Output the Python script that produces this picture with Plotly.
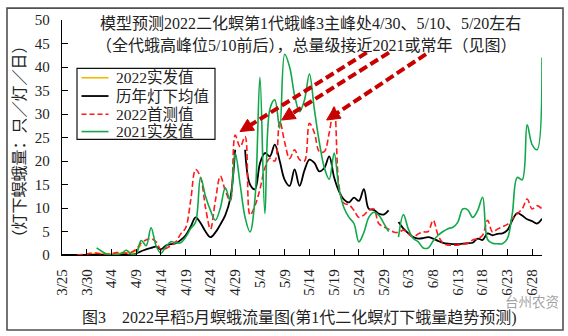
import math
import pandas as pd
import plotly.graph_objects as go

# ---------------- data ----------------
dates = pd.date_range("2022-03-25", "2022-06-30", freq="D").strftime("%Y-%m-%d").tolist()

yellow_2022_actual = [0, 0, 0, 0, 0, 0.1, 0.2, 0.3, 0.3, 0.2, 0.2, 0.3, 0.4, 0.4, 0.5, 1.0, 2.2] + [None] * 81

black_hist_mean = [0] * 15 + [
    0.3, 0.8, 1.2, 1.5, 1.8, 1.2, 2.0, 2.3, 2.5, 3.2,          # d15-24
    4.2, 6.0, 8.0, 6.8, 5.0, 3.8, 4.8, 6.5, 8.5, 12.0,         # d25-34
    22.4, None, 22.4, 15.0, 14.0, 19.5, 21.7, 21.0, 23.5, 20.0,  # d35-44
    16.0, 14.7, 18.2, 14.7, 18.0, 20.3, 19.6, 17.8, 18.5, 21.0,  # d45-54
    16.5, 13.5, 11.8, 11.2, 12.2, 11.5, 14.0, 9.8, 9.6, 8.8,   # d55-64
    8.6, 9.5, None, 7.0, 5.6, 4.6, 3.8, 3.5, 3.6, 3.8,         # d65-74
    3.5, 3.0, 2.6, 2.4, 2.3, 2.3, 2.4, 2.5, 2.6, 3.5,          # d75-84
    3.2, 4.6, 4.2, 4.5, 4.6, 5.3, 7.4, 8.9, 8.4, 7.6,          # d85-94
    7.2, 6.7, 7.7]                                             # d95-97

red_2022_forecast = [None] * 3 + [
    0, 0.1, 0.2, 0.4, 0.4, 0.2, 0.2,                           # d3-9
    0.3, 0.5, 0.5, 0.4, 0.6, 1.2, 2.6, 3.2, 3.5, 2.8,          # d10-19
    1.1, 1.4, 2.0, 2.8, 4.5, 5.8, 11.6, 18.2, 16.5, 10.1,      # d20-29
    5.5, 11.6, 16.8, 13.7, 11.6, 25.5, 23.0, 25.2, 8.5, 10.5,  # d30-39
    14.0, 18.5, 20.6, 20.0, 28.5, 24.0, 20.5, 22.4, 20.3, 20.0,  # d40-49
    28.0, 26.0, 22.0, 22.0, 26.0, 31.5, 14.5, 11.0, 10.7, 9.5,   # d50-59
    8.0, 8.5, 9.5, 9.8, 6.7, 6.0, 5.5, 4.9, 4.8, 5.3,          # d60-69
    4.5, 3.8, 4.5, 4.9, 5.0, 7.4, 4.2, 2.5, 2.1, 2.1,          # d70-79
    2.1, 2.3, 2.5, 3.2, 3.5, 4.2, 7.4, 4.9, 5.5, 6.0,          # d80-89
    6.5, 7.7, 8.8, 9.8, 11.9, 9.8, 10.5, 9.8]                  # d90-97

green_2021_actual = [None] * 7 + [
    1.5, 0.8, 0.2,                                             # d7-9
    0.0, 0.1, 0.3, 1.0, 0.2, 0.3, 3.1, 2.0, 5.8, 2.0,          # d10-19
    0.4, 1.8, 2.8, 2.6, 2.6, 3.8, 5.6, 7.0, 16.5, 12.5,        # d20-29
    9.5, 7.4, 10.0, 14.3, 11.5, 21.7, 15.0, 8.0, 4.9, 12.0,    # d30-39
    37.8, 8.8, 31.0, 33.0, 27.0, 42.7, 40.0, 34.0, 30.5, 33.0,  # d40-49
    38.5, 31.0, 24.0, 18.6, 16.1, 21.7, 14.0, 10.0, 8.0, 6.7,   # d50-59
    2.8, 4.8, 8.0, 9.1, 8.5, 6.8, 5.0, None, 3.8, 8.6,         # d60-69
    5.5, 3.5, 2.8, 1.5, 1.5, 3.0, 4.2, 5.0, 5.6, 5.9,          # d70-79
    7.0, 9.8, 9.6, 8.0, 9.5, 12.3, 3.3, 2.5, 2.4, 2.4,         # d80-89
    3.5, 8.8, 16.5, 16.0, 27.7, 23.5, 22.4, 42.0]              # d90-97

tick_dates = dates[0:96:5]
tick_labels = ["3/25", "3/30", "4/4", "4/9", "4/14", "4/19", "4/24", "4/29", "5/4", "5/9",
               "5/14", "5/19", "5/24", "5/29", "6/3", "6/8", "6/13", "6/18", "6/23", "6/28"]

series_names = ["2022实发值", "历年灯下均值", "2022首测值", "2021实发值"]

# ---------------- layout geometry (pixels) ----------------
W, H = 568, 336
PL, PR, PT, PB = 62, 542, 17, 255


def px(x):
    return (x - PL) / (PR - PL)


def py(y):
    return (PB - y) / (PB - PT)


FONT = "Liberation Serif, 'Times New Roman', 'Noto Sans CJK SC', serif"
TXT = "#222222"

fig = go.Figure()
styles = [
    dict(color="#F5B800", width=1.6),
    dict(color="#000000", width=1.8),
    dict(color="#FF1A1A", width=1.6, dash="6px,3px"),
    dict(color="#10A84A", width=1.6),
]
for name, vals, st in zip(series_names,
                          [yellow_2022_actual, black_hist_mean, red_2022_forecast, green_2021_actual],
                          styles):
    fig.add_trace(go.Scatter(x=dates, y=vals, name=name, mode="lines",
                             line=dict(shape="spline", smoothing=1, **st),
                             connectgaps=False, showlegend=False))

shapes = []
annotations = []


def ann(text, x, y, size, **kw):
    d = dict(text=text, x=px(x), y=py(y), xref="paper", yref="paper", showarrow=False,
             font=dict(family=FONT, size=size, color=kw.pop("color", TXT)),
             xanchor="center", yanchor="middle")
    d.update(kw)
    annotations.append(d)


# outer frame
shapes.append(dict(type="rect", xref="paper", yref="paper",
                   x0=px(7), x1=px(563), y0=py(331), y1=py(5),
                   line=dict(color="#505050", width=1.6), layer="below"))

# legend box (drawn from the series names/styles)
LX0, LY0, LX1, LY1 = 77, 66, 215, 138
box_path = "M {a} {b} L {c} {b} L {c} {d} L {a} {d} Z".format(a=px(LX0), b=py(LY0), c=px(LX1), d=py(LY1))
shapes.append(dict(type="path", xref="paper", yref="paper", path=box_path,
                   line=dict(color="#111111", width=1.2), fillcolor="rgba(255,255,255,0)",
                   layer="above"))
row_y = [75.5, 94, 112.5, 130]
for name, st, ry in zip(series_names, styles, row_y):
    ld = dict(color=st["color"], width=st["width"])
    if "dash" in st:
        ld["dash"] = "5px,3px"
    shapes.append(dict(type="line", xref="paper", yref="paper",
                       x0=px(81.5), x1=px(108.5), y0=py(ry), y1=py(ry), line=ld, layer="above"))
    ann(name, 113.5, ry, 15.5, xanchor="left")

# dashed arrows (pixel positions of tail and tip)
arrows = [((366.7, 50), (240, 130)), ((389, 50), (281.7, 118.3)), ((426, 51.5), (326.7, 118.3))]
AC = "#C80000"
for (tx, ty), (hx, hy) in arrows:
    dx, dy = hx - tx, hy - ty
    ln = math.hypot(dx, dy)
    ux, uy = dx / ln, dy / ln
    hl, hw = 13, 6.5
    bx, by = hx - hl * ux, hy - hl * uy
    shapes.append(dict(type="line", xref="paper", yref="paper",
                       x0=px(tx), y0=py(ty), x1=px(bx + 2 * ux), y1=py(by + 2 * uy),
                       line=dict(color=AC, width=4, dash="9px,4px")))
    p1 = (bx - uy * hw, by + ux * hw)
    p2 = (bx + uy * hw, by - ux * hw)
    path = "M {} {} L {} {} L {} {} Z".format(px(hx), py(hy), px(p1[0]), py(p1[1]), px(p2[0]), py(p2[1]))
    shapes.append(dict(type="path", xref="paper", yref="paper", path=path,
                       fillcolor=AC, line=dict(color=AC, width=1)))

ann("模型预测2022二化螟第1代蛾峰3主峰处4/30、5/10、5/20左右", 310, 21, 16)
ann("（全代蛾高峰位5/10前后），总量级接近2021或常年（见图）", 306, 42.5, 16)
ann("图3　2022早稻5月螟蛾流量图(第1代二化螟灯下蛾量趋势预测)", 299, 319, 16)
ann("（灯下螟蛾量：只／灯／日）", 19, 140, 16, textangle=-90)
ann("台州农资", 532, 303, 13.5, color="rgba(120,120,120,0.7)")

fig.update_layout(
    width=W, height=H,
    margin=dict(l=PL, r=W - PR, t=PT, b=H - PB, pad=0),
    paper_bgcolor="white", plot_bgcolor="white",
    font=dict(family=FONT, size=15, color=TXT),
    showlegend=False,
    shapes=shapes, annotations=annotations,
    xaxis=dict(type="date", range=[dates[0], dates[-1]],
               tickmode="array", tickvals=tick_dates, ticktext=tick_labels,
               tickangle=-90, ticks="inside", ticklen=6, tickcolor="#000", tickwidth=1.2,
               showline=True, linecolor="#000", linewidth=1.3, showgrid=False, zeroline=False,
               tickfont=dict(family=FONT, size=15, color=TXT), ticklabelstandoff=7),
    yaxis=dict(range=[0, 50], dtick=5, ticks="inside", ticklen=6, tickcolor="#000", tickwidth=1.2,
               showline=True, linecolor="#000", linewidth=1.3, showgrid=False, zeroline=False,
               tickfont=dict(family=FONT, size=15, color=TXT), ticklabelstandoff=8),
)

fig.write_html("out.html")
